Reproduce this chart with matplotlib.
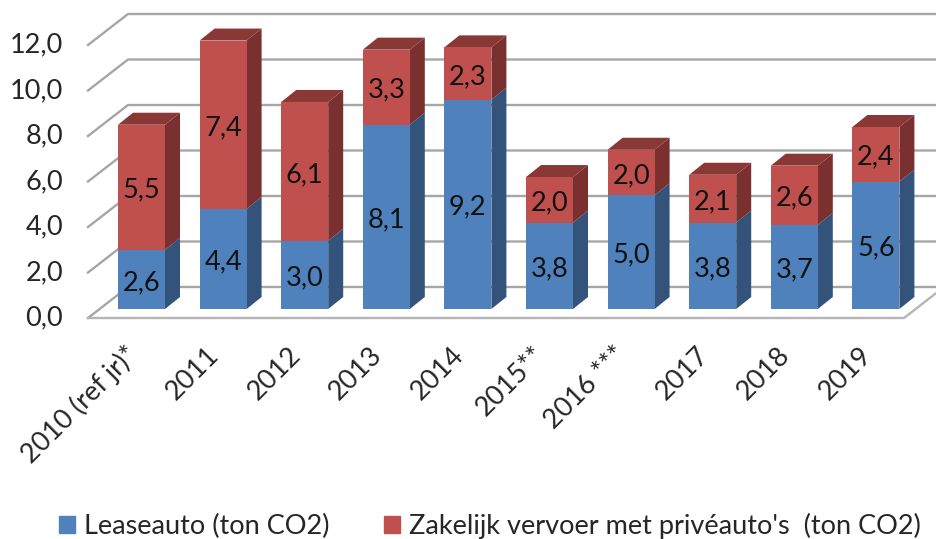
import matplotlib
matplotlib.use('Agg')
import matplotlib.pyplot as plt
from matplotlib.patches import Patch

plt.rcParams['font.family'] = ['Lato', 'DejaVu Sans']

jaren = ['2010 (ref jr)*', '2011', '2012', '2013', '2014', '2015**', '2016 ***', '2017', '2018', '2019']
lease = [2.6, 4.4, 3.0, 8.1, 9.2, 3.8, 5.0, 3.8, 3.7, 5.6]
prive = [5.5, 7.4, 6.1, 3.3, 2.3, 2.0, 2.0, 2.1, 2.6, 2.4]
y_ticks = [0, 2, 4, 6, 8, 10, 12]
namen = ['Leaseauto (ton CO2)', "Zakelijk vervoer met privéauto's  (ton CO2)"]

# pixel scale of the picture: one category and one unit of y
px_x = 81.6
px_y = 22.75
w, h = 936, 539
fs = 19.5

fig = plt.figure(figsize=(w / 100, h / 100), dpi=100)
ax = fig.add_axes([0, 0, 1, 1])
ax.set_xlim(-141.5 / px_x, (w - 141.5) / px_x)
ax.set_ylim(-(h - 309) / px_y, 309 / px_y)
ax.axis('off')

# depth of the walls and of the bars
wall_dx, wall_dy = 40 / px_x, 31 / px_y
bar_dx, bar_dy = 15 / px_x, 12 / px_y
bw = 47 / px_x
x_left = (88 - 141.5) / px_x
x_right = (904 - 141.5) / px_x
x_edge = w / px_x
floor = -9 / px_y

for t in y_ticks:
    y = t + floor
    ax.plot([x_left, x_left + wall_dx, x_edge], [y, y + wall_dy, y + wall_dy],
            color='#a6a6a6', lw=1.7, solid_joinstyle='miter', zorder=1)
    ax.text(x_left - 25 / px_x, y, f'{t},0', ha='right', va='center',
            fontsize=fs, color='#262626')
ax.plot([x_left, x_right, x_right + wall_dx], [floor, floor, floor + wall_dy],
        color='#b5b5b5', lw=1.7, zorder=1)


def blok(x, y0, y1, front, side):
    l, r = x - bw / 2, x + bw / 2
    ax.fill([r, r + bar_dx, r + bar_dx, r], [y0, y0 + bar_dy, y1 + bar_dy, y1], color=side, lw=0, zorder=3)
    ax.fill([l, r, r, l], [y0, y0, y1, y1], color=front, lw=0, zorder=4)


for i in range(len(jaren)):
    a, b = lease[i], prive[i]
    blok(i, 0, a, '#4f81bd', '#33537b')
    blok(i, a, a + b, '#c0504d', '#7a302e')
    l, r = i - bw / 2, i + bw / 2
    top = a + b
    ax.fill([l, r, r + bar_dx, l + bar_dx], [top, top, top + bar_dy, top + bar_dy],
            color='#8a3836', lw=0, zorder=3)
    ax.text(i, a / 2 - 0.13, f'{a:.1f}'.replace('.', ','), ha='center', va='center',
            fontsize=fs, color='#111111', zorder=5)
    ax.text(i, a + b / 2 - 0.13, f'{b:.1f}'.replace('.', ','), ha='center', va='center',
            fontsize=fs, color='#111111', zorder=5)
    ax.text(i - 17 / px_x, floor - 24 / px_y, jaren[i], rotation=45, rotation_mode='anchor',
            ha='right', va='top', fontsize=fs, color='#262626')

handles = [Patch(color='#4f81bd'), Patch(color='#c0504d')]
ax.legend(handles, namen, ncol=2, loc='lower left', bbox_to_anchor=(59 / w, 0), frameon=False,
          fontsize=fs, handlelength=0.6, handleheight=0.62, handletextpad=0.33,
          columnspacing=2.0, labelcolor='#262626', borderaxespad=0.0, borderpad=0.0)

fig.savefig('out.png', dpi=100)
